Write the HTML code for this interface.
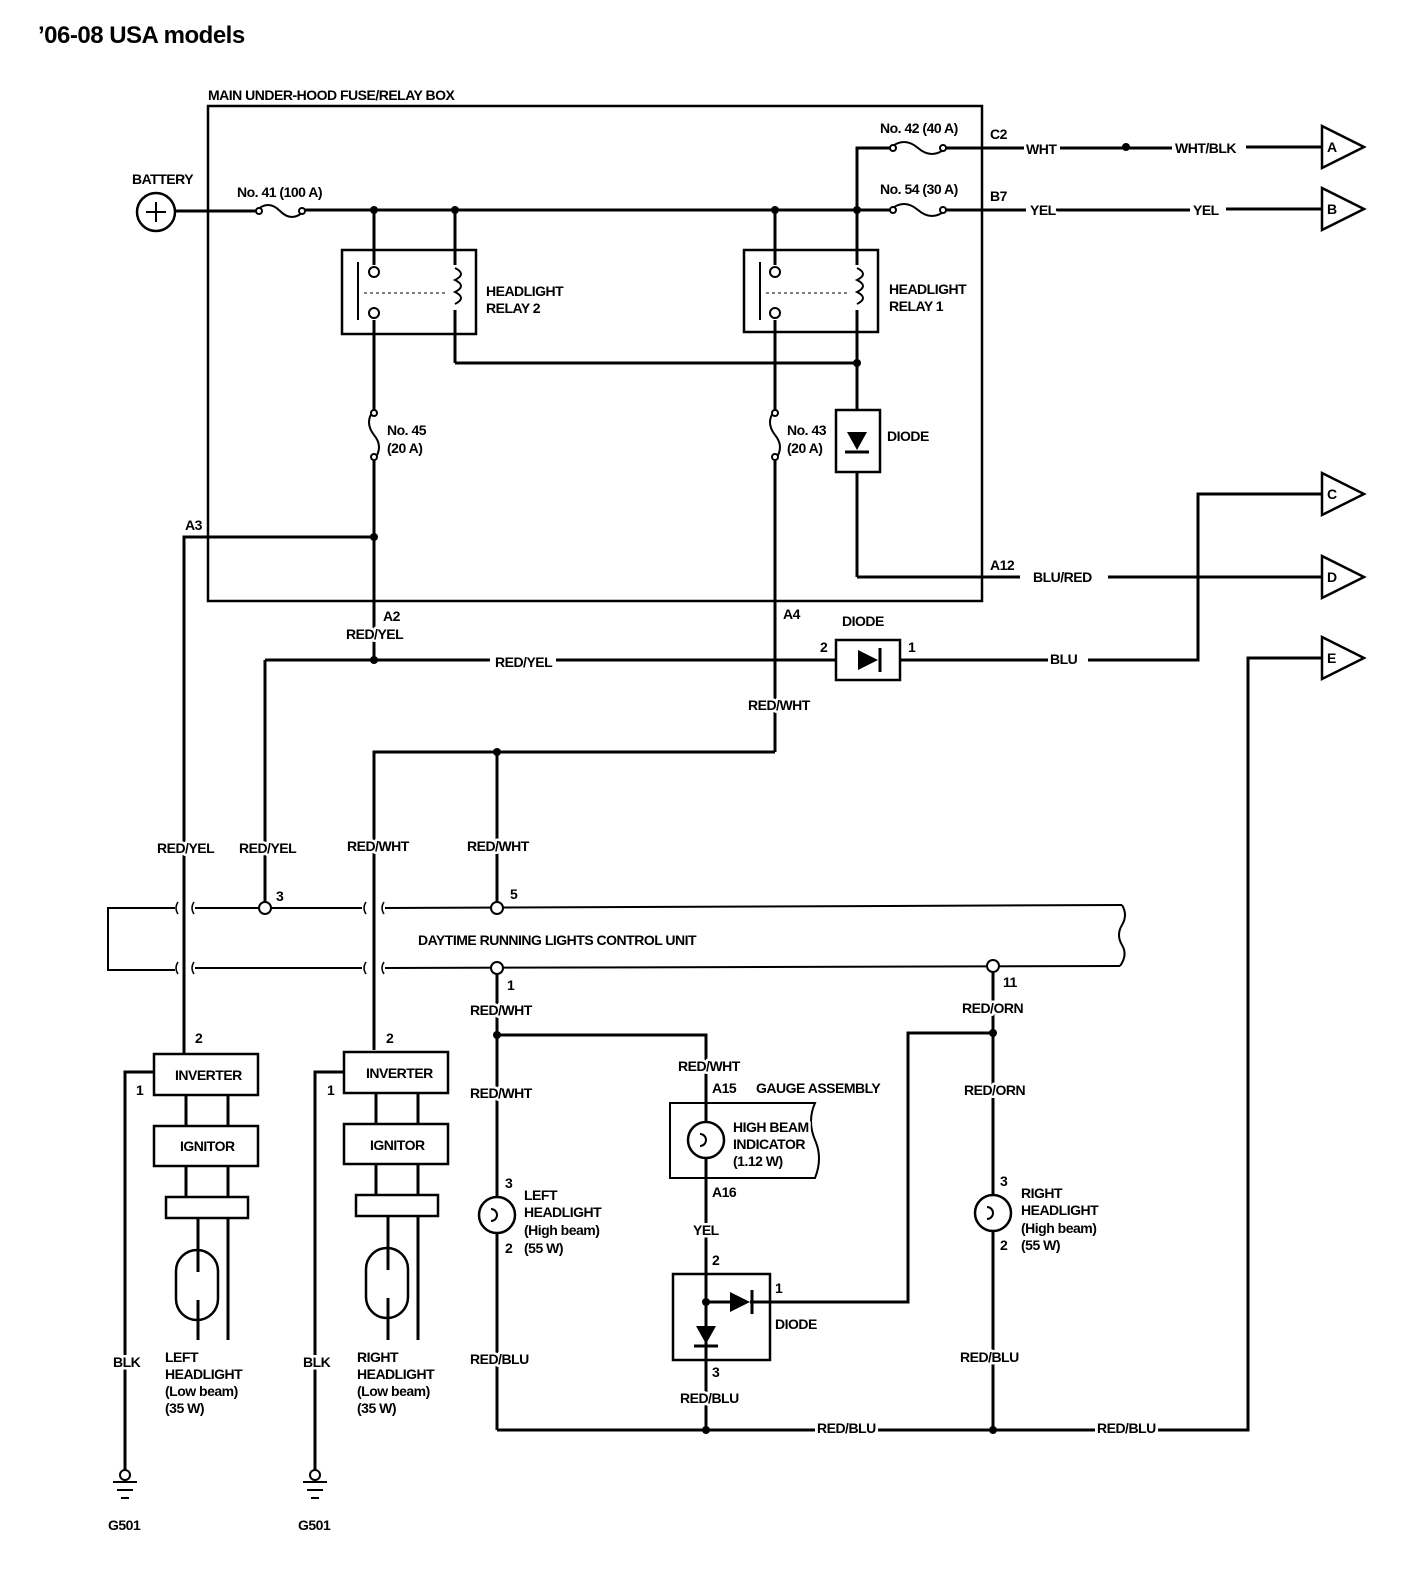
<!DOCTYPE html>
<html><head><meta charset="utf-8"><style>
html,body{margin:0;padding:0;background:#fff}
svg{display:block}
text{font-family:"Liberation Sans Narrow","Liberation Sans",sans-serif;font-weight:bold;font-size:14px;fill:#000;letter-spacing:-0.5px;paint-order:stroke;stroke:#fff;stroke-width:5px;stroke-linejoin:round}
</style></head><body>
<svg width="1408" height="1572" viewBox="0 0 1408 1572" xmlns="http://www.w3.org/2000/svg">
<g fill="none" stroke="#000" stroke-width="3">
<rect x="208" y="106" width="774" height="495" stroke-width="2.5"/>
<circle cx="156" cy="212" r="19" stroke-width="2.5"/>
<line x1="146" y1="212" x2="166" y2="212" stroke-width="2"/><line x1="156" y1="202" x2="156" y2="222" stroke-width="2"/>
<line x1="175" y1="211" x2="256" y2="211"/>
<path d="M256 211 q12 -12 24 0 q12 12 24 0" stroke-width="2"/>
<line x1="304" y1="210" x2="890" y2="210"/>
<polyline points="857,210 857,148 890,148"/>
<path d="M890 148 q14 -12 28 0 q14 12 28 0" stroke-width="2"/>
<line x1="946" y1="148" x2="1024" y2="148"/>
<line x1="1060" y1="148" x2="1172" y2="148"/>
<line x1="1246" y1="147" x2="1322" y2="147"/>
<path d="M890 210 q14 -12 28 0 q14 12 28 0" stroke-width="2"/>
<line x1="946" y1="210" x2="1026" y2="210"/>
<line x1="1056" y1="210" x2="1190" y2="210"/>
<line x1="1226" y1="209" x2="1322" y2="209"/>
<rect x="342" y="250" width="134" height="84" stroke-width="2.5"/>
<rect x="744" y="250" width="134" height="82" stroke-width="2.5"/>
<line x1="374" y1="210" x2="374" y2="265"/><line x1="374" y1="320" x2="374" y2="410"/>
<line x1="455" y1="210" x2="455" y2="265"/><line x1="455" y1="310" x2="455" y2="363"/>
<line x1="775" y1="210" x2="775" y2="265"/><line x1="775" y1="320" x2="775" y2="410"/>
<line x1="857" y1="210" x2="857" y2="265"/><line x1="857" y1="310" x2="857" y2="410"/>
<line x1="455" y1="363" x2="857" y2="363"/>
<line x1="358" y1="262" x2="358" y2="320" stroke-width="2"/>
<line x1="760" y1="262" x2="760" y2="320" stroke-width="2"/>
<path d="M455 268 q12 6 0 12 q12 6 0 12 q12 6 0 12" stroke-width="2"/>
<path d="M857 268 q12 6 0 12 q12 6 0 12 q12 6 0 12" stroke-width="2"/>
<line x1="364" y1="293" x2="445" y2="293" stroke-width="1" stroke-dasharray="3,3"/>
<line x1="766" y1="293" x2="847" y2="293" stroke-width="1" stroke-dasharray="3,3"/>
<path d="M374 410 q-10 12 0 25 q10 12 0 25" stroke-width="2"/>
<line x1="374" y1="460" x2="374" y2="660"/>
<path d="M775 410 q-10 12 0 25 q10 12 0 25" stroke-width="2"/>
<line x1="775" y1="460" x2="775" y2="752"/>
<rect x="836" y="410" width="44" height="62" stroke-width="2.5"/>
<line x1="857" y1="472" x2="857" y2="577"/>
<polyline points="857,577 1020,577"/>
<line x1="1108" y1="577" x2="1322" y2="577"/>
<polyline points="374,537 184,537 184,1054"/>
<line x1="265" y1="660" x2="490" y2="660"/>
<line x1="556" y1="660" x2="836" y2="660"/>
<polyline points="265,660 265,902"/>
<rect x="836" y="640" width="64" height="40" stroke-width="2.5"/>
<line x1="900" y1="660" x2="1048" y2="660"/>
<polyline points="1088,660 1198,660 1198,494 1322,494"/>
<polyline points="374,1050 374,752 775,752"/>
<line x1="497" y1="752" x2="497" y2="902"/>
<polyline points="175,908 108,908 108,970 175,970" stroke-width="2"/>
<line x1="195" y1="908" x2="362" y2="908" stroke-width="2"/>
<line x1="385" y1="908" x2="1122" y2="905" stroke-width="2"/>
<line x1="195" y1="968" x2="362" y2="968" stroke-width="2"/>
<line x1="385" y1="968" x2="1120" y2="966" stroke-width="2"/>
<path d="M1122 905 q6 10 0 20 q-6 10 0 20 q6 10 -2 21" stroke-width="2"/>
<path d="M178 902 q-4 6 0 12 M194 902 q-4 6 0 12 M178 962 q-4 6 0 12 M194 962 q-4 6 0 12 M366 902 q-4 6 0 12 M384 902 q-4 6 0 12 M366 962 q-4 6 0 12 M384 962 q-4 6 0 12" stroke-width="1.5"/>
<line x1="497" y1="974" x2="497" y2="1197"/>
<line x1="497" y1="1233" x2="497" y2="1430"/>
<polyline points="497,1035 706,1035 706,1122"/>
<line x1="706" y1="1158" x2="706" y2="1430"/>
<line x1="993" y1="972" x2="993" y2="1195"/>
<line x1="993" y1="1231" x2="993" y2="1430"/>
<polyline points="993,1033 908,1033 908,1302 750,1302"/>
<polyline points="497,1430 815,1430"/>
<line x1="878" y1="1430" x2="1095" y2="1430"/>
<polyline points="1158,1430 1248,1430 1248,658 1322,658"/>
<path d="M670 1103 L815 1103 q-8 18 0 37 q8 18 0 38 L670 1178 Z" stroke-width="2"/>
<circle cx="706" cy="1140" r="18" stroke-width="2.5"/>
<path d="M700 1134 a6 6 0 1 1 0 12" stroke-width="2"/>
<rect x="673" y="1274" width="97" height="86" stroke-width="2.5"/>
<line x1="706" y1="1302" x2="730" y2="1302"/>
<circle cx="497" cy="1215" r="18" stroke-width="2.5"/>
<path d="M491 1209 a6 6 0 1 1 0 12" stroke-width="2"/>
<circle cx="993" cy="1213" r="18" stroke-width="2.5"/>
<path d="M987 1207 a6 6 0 1 1 0 12" stroke-width="2"/>
<rect x="154" y="1054" width="104" height="41" stroke-width="2.5"/>
<rect x="154" y="1126" width="104" height="40" stroke-width="2.5"/>
<rect x="166" y="1197" width="82" height="21" stroke-width="2.5"/>
<line x1="186" y1="1095" x2="186" y2="1126"/><line x1="228" y1="1095" x2="228" y2="1126"/>
<line x1="186" y1="1166" x2="186" y2="1197"/><line x1="228" y1="1166" x2="228" y2="1197"/>
<rect x="176" y="1250" width="42" height="70" rx="21" stroke-width="2.5"/>
<line x1="198" y1="1218" x2="198" y2="1272"/><line x1="198" y1="1300" x2="198" y2="1340"/>
<line x1="228" y1="1218" x2="228" y2="1340"/>
<polyline points="154,1072 125,1072 125,1470"/>
<rect x="344" y="1052" width="104" height="41" stroke-width="2.5"/>
<rect x="344" y="1124" width="104" height="40" stroke-width="2.5"/>
<rect x="356" y="1195" width="82" height="21" stroke-width="2.5"/>
<line x1="376" y1="1093" x2="376" y2="1124"/><line x1="418" y1="1093" x2="418" y2="1124"/>
<line x1="376" y1="1164" x2="376" y2="1195"/><line x1="418" y1="1164" x2="418" y2="1195"/>
<rect x="366" y="1248" width="42" height="70" rx="21" stroke-width="2.5"/>
<line x1="388" y1="1216" x2="388" y2="1270"/><line x1="388" y1="1298" x2="388" y2="1340"/>
<line x1="418" y1="1216" x2="418" y2="1340"/>
<polyline points="344,1072 315,1072 315,1470"/>
<circle cx="125" cy="1475" r="5" stroke-width="2"/>
<line x1="113" y1="1482" x2="137" y2="1482" stroke-width="2"/><line x1="117" y1="1490" x2="133" y2="1490" stroke-width="2"/><line x1="121" y1="1498" x2="129" y2="1498" stroke-width="2"/>
<circle cx="315" cy="1475" r="5" stroke-width="2"/>
<line x1="303" y1="1482" x2="327" y2="1482" stroke-width="2"/><line x1="307" y1="1490" x2="323" y2="1490" stroke-width="2"/><line x1="311" y1="1498" x2="319" y2="1498" stroke-width="2"/>
<polygon points="1322,126 1364,147 1322,168" stroke-width="2.5"/>
<polygon points="1322,188 1364,209 1322,230" stroke-width="2.5"/>
<polygon points="1322,473 1364,494 1322,515" stroke-width="2.5"/>
<polygon points="1322,556 1364,577 1322,598" stroke-width="2.5"/>
<polygon points="1322,637 1364,658 1322,679" stroke-width="2.5"/>
</g>
<g fill="#fff" stroke="#000" stroke-width="2">
<circle cx="374" cy="272" r="5"/><circle cx="374" cy="313" r="5"/>
<circle cx="775" cy="272" r="5"/><circle cx="775" cy="313" r="5"/>
<circle cx="374" cy="413" r="3"/><circle cx="374" cy="457" r="3"/>
<circle cx="775" cy="413" r="3"/><circle cx="775" cy="457" r="3"/>
<circle cx="265" cy="908" r="6"/><circle cx="497" cy="908" r="6"/>
<circle cx="497" cy="968" r="6"/><circle cx="993" cy="966" r="6"/>
<circle cx="259" cy="211" r="3"/><circle cx="302" cy="211" r="3"/>
<circle cx="893" cy="148" r="3"/><circle cx="943" cy="148" r="3"/>
<circle cx="893" cy="210" r="3"/><circle cx="943" cy="210" r="3"/>
</g>
<g fill="#000">
<circle cx="374" cy="210" r="4"/><circle cx="455" cy="210" r="4"/><circle cx="775" cy="210" r="4"/><circle cx="857" cy="210" r="4"/>
<circle cx="857" cy="363" r="4"/><circle cx="374" cy="537" r="4"/><circle cx="374" cy="660" r="4"/>
<circle cx="497" cy="752" r="4"/><circle cx="1126" cy="147" r="4"/>
<circle cx="497" cy="1035" r="4"/><circle cx="993" cy="1033" r="4"/>
<circle cx="706" cy="1430" r="4"/><circle cx="993" cy="1430" r="4"/><circle cx="706" cy="1302" r="4"/>
<polygon points="847,432 867,432 857,450"/>
<polygon points="858,650 858,670 878,660"/>
<polygon points="730,1292 730,1312 750,1302"/>
<polygon points="696,1326 716,1326 706,1344"/>
</g>
<g stroke="#000" stroke-width="3">
<line x1="845" y1="452" x2="869" y2="452"/>
<line x1="880" y1="648" x2="880" y2="672"/>
<line x1="752" y1="1290" x2="752" y2="1314"/>
<line x1="694" y1="1346" x2="718" y2="1346"/>
</g>
<text x="38" y="43" style="font-family:'Liberation Sans',sans-serif;font-size:24px;letter-spacing:-0.5px">’06-08 USA models</text>
<text x="208" y="100">MAIN UNDER-HOOD FUSE/RELAY BOX</text>
<text x="132" y="184">BATTERY</text>
<text x="237" y="197">No. 41 (100 A)</text>
<text x="880" y="133">No. 42 (40 A)</text>
<text x="880" y="194">No. 54 (30 A)</text>
<text x="990" y="139">C2</text>
<text x="1026" y="154">WHT</text>
<text x="1175" y="153">WHT/BLK</text>
<text x="990" y="201">B7</text>
<text x="1030" y="215">YEL</text>
<text x="1193" y="215">YEL</text>
<text x="1327" y="152" font-size="12">A</text>
<text x="1327" y="214" font-size="12">B</text>
<text x="1327" y="499" font-size="12">C</text>
<text x="1327" y="582" font-size="12">D</text>
<text x="1327" y="663" font-size="12">E</text>
<text x="486" y="296">HEADLIGHT</text><text x="486" y="313">RELAY 2</text>
<text x="889" y="294">HEADLIGHT</text><text x="889" y="311">RELAY 1</text>
<text x="387" y="435">No. 45</text><text x="387" y="453">(20 A)</text>
<text x="787" y="435">No. 43</text><text x="787" y="453">(20 A)</text>
<text x="887" y="441">DIODE</text>
<text x="185" y="530">A3</text>
<text x="990" y="570">A12</text>
<text x="1033" y="582">BLU/RED</text>
<text x="383" y="621">A2</text>
<text x="346" y="639">RED/YEL</text>
<text x="783" y="619">A4</text>
<text x="842" y="626">DIODE</text>
<text x="820" y="652">2</text><text x="908" y="652">1</text>
<text x="495" y="667">RED/YEL</text>
<text x="1050" y="664">BLU</text>
<text x="748" y="710">RED/WHT</text>
<text x="157" y="853">RED/YEL</text>
<text x="239" y="853">RED/YEL</text>
<text x="347" y="851">RED/WHT</text>
<text x="467" y="851">RED/WHT</text>
<text x="276" y="901">3</text><text x="510" y="899">5</text>
<text x="418" y="945">DAYTIME RUNNING LIGHTS CONTROL UNIT</text>
<text x="507" y="990">1</text><text x="1003" y="987">11</text>
<text x="470" y="1015">RED/WHT</text>
<text x="962" y="1013">RED/ORN</text>
<text x="195" y="1043">2</text><text x="386" y="1043">2</text>
<text x="136" y="1095">1</text><text x="327" y="1095">1</text>
<text x="175" y="1080">INVERTER</text><text x="366" y="1078">INVERTER</text>
<text x="180" y="1151">IGNITOR</text><text x="370" y="1150">IGNITOR</text>
<text x="678" y="1071">RED/WHT</text>
<text x="712" y="1093">A15</text>
<text x="756" y="1093">GAUGE ASSEMBLY</text>
<text x="470" y="1098">RED/WHT</text>
<text x="964" y="1095">RED/ORN</text>
<text x="733" y="1132">HIGH BEAM</text><text x="733" y="1149">INDICATOR</text><text x="733" y="1166" font-size="13">(1.12 W)</text>
<text x="712" y="1197">A16</text>
<text x="505" y="1188">3</text><text x="505" y="1253">2</text>
<text x="524" y="1200">LEFT</text><text x="524" y="1217">HEADLIGHT</text><text x="524" y="1235" font-size="13">(High beam)</text><text x="524" y="1253" font-size="13">(55 W)</text>
<text x="1000" y="1186">3</text><text x="1000" y="1250">2</text>
<text x="1021" y="1198">RIGHT</text><text x="1021" y="1215">HEADLIGHT</text><text x="1021" y="1233" font-size="13">(High beam)</text><text x="1021" y="1250" font-size="13">(55 W)</text>
<text x="693" y="1235">YEL</text>
<text x="712" y="1265">2</text><text x="775" y="1293">1</text><text x="712" y="1377">3</text>
<text x="775" y="1329">DIODE</text>
<text x="470" y="1364">RED/BLU</text>
<text x="960" y="1362">RED/BLU</text>
<text x="680" y="1403">RED/BLU</text>
<text x="817" y="1433">RED/BLU</text>
<text x="1097" y="1433">RED/BLU</text>
<text x="113" y="1367">BLK</text><text x="303" y="1367">BLK</text>
<text x="165" y="1362">LEFT</text><text x="165" y="1379">HEADLIGHT</text><text x="165" y="1396" font-size="13">(Low beam)</text><text x="165" y="1413" font-size="13">(35 W)</text>
<text x="357" y="1362">RIGHT</text><text x="357" y="1379">HEADLIGHT</text><text x="357" y="1396" font-size="13">(Low beam)</text><text x="357" y="1413" font-size="13">(35 W)</text>
<text x="108" y="1530">G501</text><text x="298" y="1530">G501</text>
</svg>
</body></html>
